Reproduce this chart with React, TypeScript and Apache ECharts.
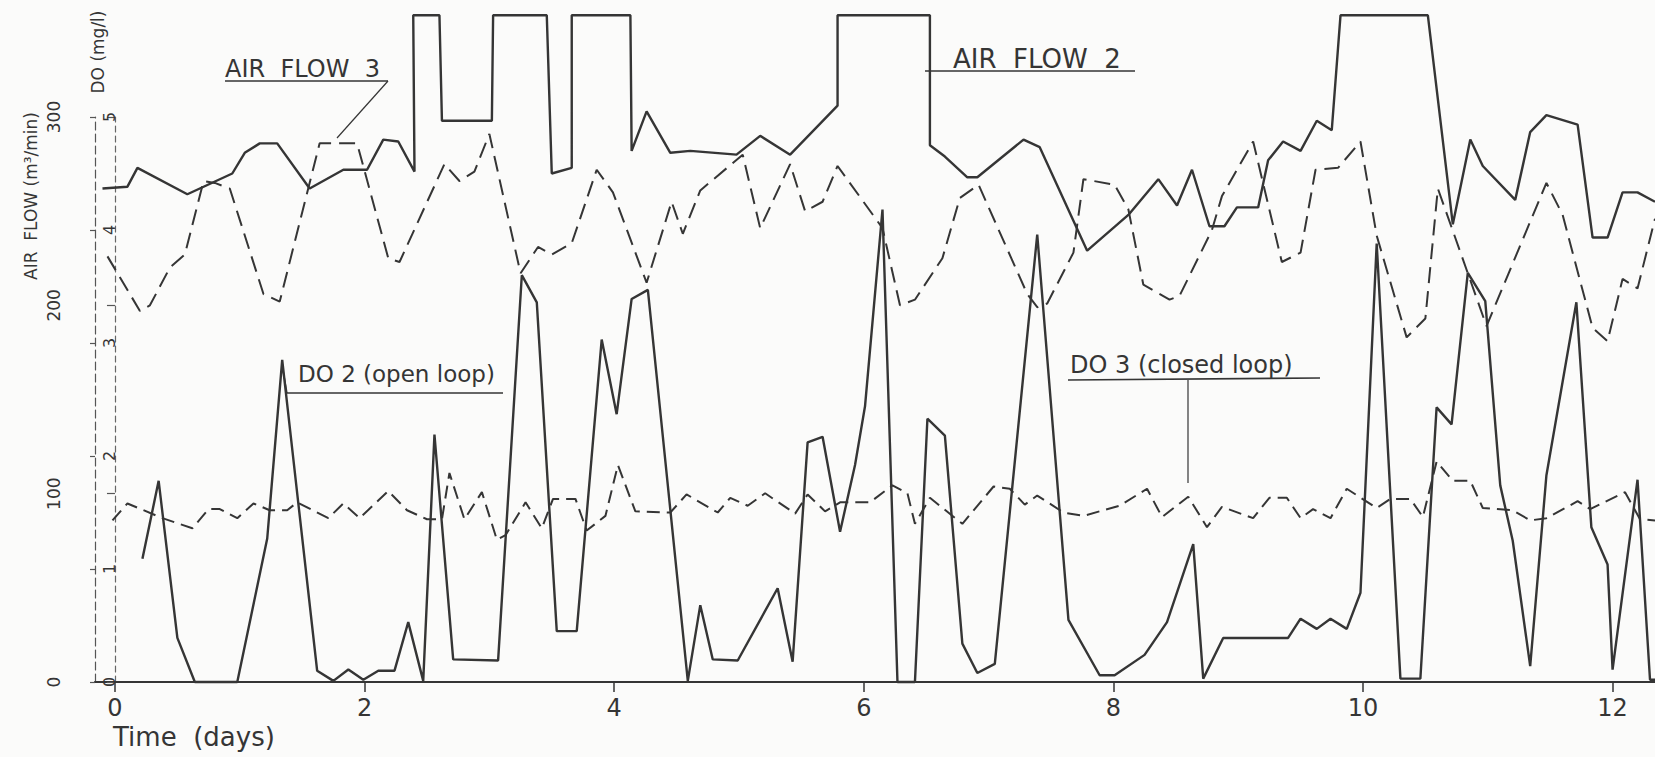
import React, { useEffect, useRef } from "react";
import * as echarts from "echarts";

// ---- Data ----
const dayTicks = [0, 2, 4, 6, 8, 10, 12];
const airflowTicks = [0, 100, 200, 300];
const doTicks = [0, 1, 2, 3, 4, 5];

// AIR FLOW 2 (solid, m3/min)
const af2Days = [-0.1, 0.1, 0.18, 0.58, 0.94, 1.04, 1.16, 1.3, 1.56, 1.83, 2.02, 2.15, 2.27, 2.4, 2.39, 2.6, 2.62, 3.02, 3.03, 3.46, 3.5, 3.66, 3.66, 4.13, 4.14, 4.26, 4.45, 4.61, 4.98, 5.17, 5.41, 5.79, 5.79, 6.53, 6.53, 6.65, 6.83, 6.91, 7.28, 7.41, 7.79, 8.12, 8.36, 8.51, 8.63, 8.77, 8.89, 8.99, 9.16, 9.24, 9.36, 9.5, 9.63, 9.75, 9.82, 10.52, 10.72, 10.86, 10.96, 11.22, 11.34, 11.47, 11.72, 11.84, 11.96, 12.08, 12.2, 12.34];
const af2Flow = [262, 263, 273, 259, 270, 281, 286, 286, 262, 272, 272, 288, 287, 271, 354, 354, 298, 298, 354, 354, 270, 273, 354, 354, 282, 303, 281, 282, 280, 290, 280, 306, 354, 354, 285, 279, 268, 268, 288, 284, 229, 248, 267, 253, 272, 242, 242, 252, 252, 277, 287, 282, 298, 293, 354, 354, 243, 288, 274, 256, 292, 301, 296, 236, 236, 260, 260, 255];

// AIR FLOW 3 (dashed, m3/min)
const af3Days = [-0.06, 0.2, 0.28, 0.44, 0.56, 0.71, 0.8, 0.92, 1.19, 1.32, 1.64, 1.94, 2.19, 2.28, 2.64, 2.76, 2.88, 3.0, 3.25, 3.39, 3.5, 3.66, 3.86, 3.99, 4.26, 4.46, 4.55, 4.69, 5.03, 5.17, 5.41, 5.53, 5.67, 5.79, 6.15, 6.29, 6.41, 6.63, 6.77, 6.92, 7.31, 7.39, 7.47, 7.68, 7.76, 8.01, 8.12, 8.24, 8.45, 8.53, 8.79, 8.87, 9.12, 9.35, 9.5, 9.62, 9.8, 9.98, 10.11, 10.35, 10.5, 10.6, 10.99, 11.47, 11.6, 11.84, 11.96, 12.08, 12.2, 12.34];
const af3Flow = [226, 197, 200, 220, 227, 266, 265, 262, 206, 202, 286, 286, 225, 223, 275, 266, 271, 291, 217, 231, 227, 233, 272, 260, 212, 255, 238, 261, 280, 241, 275, 250, 255, 274, 241, 200, 203, 225, 257, 264, 206, 199, 201, 228, 267, 264, 251, 211, 203, 205, 240, 258, 287, 223, 228, 272, 273, 287, 237, 183, 193, 262, 189, 265, 248, 188, 181, 214, 209, 246];

// DO 2 (open loop, solid, mg/l)
const do2Days = [0.22, 0.35, 0.5, 0.64, 0.98, 1.22, 1.34, 1.62, 1.75, 1.87, 1.99, 2.11, 2.24, 2.35, 2.47, 2.56, 2.71, 3.07, 3.26, 3.38, 3.54, 3.7, 3.9, 4.02, 4.14, 4.27, 4.59, 4.69, 4.79, 4.99, 5.31, 5.43, 5.55, 5.67, 5.81, 5.93, 6.01, 6.15, 6.27, 6.41, 6.51, 6.65, 6.79, 6.91, 7.05, 7.39, 7.64, 7.89, 8.01, 8.25, 8.43, 8.64, 8.72, 8.88, 9.4, 9.5, 9.63, 9.74, 9.87, 9.98, 10.11, 10.3, 10.46, 10.59, 10.71, 10.84, 10.98, 11.1, 11.2, 11.34, 11.47, 11.71, 11.83, 11.96, 12.0, 12.2, 12.3, 12.34];
const do2Mg = [1.09, 1.78, 0.39, 0.0, 0.0, 1.27, 2.85, 0.1, 0.01, 0.11, 0.02, 0.1, 0.1, 0.53, 0.01, 2.19, 0.2, 0.19, 3.6, 3.36, 0.45, 0.45, 3.03, 2.37, 3.39, 3.47, 0.01, 0.68, 0.2, 0.19, 0.83, 0.18, 2.12, 2.17, 1.33, 1.92, 2.44, 4.18, 0.0, 0.0, 2.33, 2.18, 0.34, 0.08, 0.16, 3.96, 0.55, 0.06, 0.06, 0.24, 0.53, 1.22, 0.03, 0.39, 0.39, 0.56, 0.47, 0.56, 0.47, 0.79, 3.88, 0.03, 0.03, 2.43, 2.28, 3.62, 3.37, 1.74, 1.25, 0.14, 1.83, 3.36, 1.37, 1.04, 0.11, 1.79, 0.02, 0.02];

// DO 3 (closed loop, dashed, mg/l)
const do3Days = [-0.02, 0.1, 0.38, 0.62, 0.75, 0.84, 0.98, 1.11, 1.24, 1.38, 1.46, 1.71, 1.83, 1.96, 2.19, 2.34, 2.5, 2.62, 2.68, 2.8, 2.94, 3.06, 3.13, 3.29, 3.42, 3.51, 3.69, 3.78, 3.93, 4.03, 4.17, 4.45, 4.58, 4.83, 4.93, 5.07, 5.21, 5.45, 5.55, 5.69, 5.81, 6.05, 6.23, 6.35, 6.41, 6.53, 6.79, 7.04, 7.17, 7.29, 7.39, 7.6, 7.76, 8.05, 8.27, 8.39, 8.6, 8.75, 8.87, 9.12, 9.25, 9.39, 9.5, 9.6, 9.74, 9.87, 10.11, 10.22, 10.38, 10.48, 10.59, 10.72, 10.86, 10.96, 11.2, 11.34, 11.47, 11.72, 11.82, 12.1, 12.22, 12.34];
const do3Mg = [1.43, 1.58, 1.45, 1.36, 1.53, 1.53, 1.45, 1.58, 1.52, 1.52, 1.59, 1.45, 1.58, 1.45, 1.69, 1.52, 1.44, 1.44, 1.85, 1.44, 1.68, 1.26, 1.3, 1.59, 1.36, 1.62, 1.62, 1.34, 1.47, 1.92, 1.51, 1.5, 1.66, 1.5, 1.63, 1.56, 1.67, 1.49, 1.66, 1.51, 1.59, 1.59, 1.74, 1.67, 1.4, 1.63, 1.4, 1.73, 1.71, 1.57, 1.65, 1.5, 1.47, 1.56, 1.71, 1.46, 1.64, 1.37, 1.55, 1.45, 1.63, 1.63, 1.45, 1.53, 1.45, 1.71, 1.54, 1.62, 1.62, 1.46, 1.95, 1.78, 1.78, 1.54, 1.52, 1.43, 1.45, 1.6, 1.53, 1.68, 1.44, 1.43];

const zip = (xs: number[], ys: number[]) => xs.map((x, i) => [x, ys[i]]);

const INK = "#353535";
const FONT = "DejaVu Sans";

export default function App() {
  const ref = useRef<HTMLDivElement>(null);
  useEffect(() => {
    if (!ref.current) return;
    const chart = echarts.init(ref.current, undefined, { renderer: "svg" });
    const lineBase = { type: "line" as const, showSymbol: false, symbol: "none", silent: true, clip: false };
    const txt = (text: string, x: number, y: number, fontSize: number, rotation = 0, align = "left") => ({
      type: "text",
      x,
      y,
      rotation,
      silent: true,
      style: {
        text,
        fill: INK,
        font: `${fontSize}px "${FONT}"`,
        fontSize,
        fontFamily: FONT,
        align,
        textAlign: align,
        verticalAlign: "middle",
        textVerticalAlign: "middle",
      },
    });
    const ln = (x1: number, y1: number, x2: number, y2: number, w = 1.6) => ({
      type: "line",
      silent: true,
      shape: { x1, y1, x2, y2 },
      style: { stroke: INK, lineWidth: w },
    });
    chart.setOption({
      animation: false,
      backgroundColor: "#fbfbfa",
      grid: { left: 95, right: 0, top: 117, bottom: 75 },
      xAxis: {
        type: "value",
        min: -0.16,
        max: 12.34,
        axisLine: { show: true, lineStyle: { color: INK, width: 2.2 } },
        axisTick: { show: true, length: 10, customValues: dayTicks, lineStyle: { color: INK, width: 1.5 } },
        axisLabel: { customValues: dayTicks, color: INK, fontSize: 24, fontFamily: FONT, margin: 14 },
        splitLine: { show: false },
      },
      yAxis: [
        {
          type: "value",
          position: "left",
          offset: 25,
          min: 0,
          max: 300,
          interval: 100,
          axisLine: { show: true, lineStyle: { color: "#666", width: 1.2, type: [6, 4] } },
          axisTick: { show: true, length: 8, lineStyle: { color: "#555", width: 1.2 } },
          axisLabel: { rotate: 90, color: INK, fontSize: 17, fontFamily: FONT, margin: 8 },
          splitLine: { show: false },
        },
        {
          type: "value",
          position: "left",
          offset: 0,
          min: 0,
          max: 5,
          interval: 1,
          axisLine: { show: true, lineStyle: { color: "#555", width: 1.2, type: [8, 4] } },
          axisTick: { show: true, length: 5, lineStyle: { color: "#555", width: 1.2 } },
          axisLabel: { inside: true, rotate: 90, color: INK, fontSize: 16, fontFamily: FONT, margin: 6 },
          splitLine: { show: false },
        },
      ],
      series: [
        { ...lineBase, name: "AIR FLOW 2", yAxisIndex: 0, data: zip(af2Days, af2Flow), lineStyle: { color: INK, width: 2.4 } },
        { ...lineBase, name: "AIR FLOW 3", yAxisIndex: 0, data: zip(af3Days, af3Flow), lineStyle: { color: INK, width: 2, type: [16, 8] } },
        { ...lineBase, name: "DO 2 (open loop)", yAxisIndex: 1, data: zip(do2Days, do2Mg), lineStyle: { color: INK, width: 2.4 } },
        { ...lineBase, name: "DO 3 (closed loop)", yAxisIndex: 1, data: zip(do3Days, do3Mg), lineStyle: { color: INK, width: 2, type: [13, 7] } },
      ],
      graphic: [
        txt("AIR  FLOW (m³/min)", 31, 196, 17, Math.PI / 2, "center"),
        txt("DO (mg/l)", 98, 52, 17, Math.PI / 2, "center"),
        txt("AIR  FLOW  3", 225, 69, 24),
        ln(225, 81, 388, 81),
        ln(388, 81, 337, 138, 1.2),
        txt("AIR  FLOW  2", 953, 59, 26),
        ln(925, 71, 1135, 71),
        txt("DO 2 (open loop)", 298, 374, 23),
        ln(287, 393, 503, 393),
        ln(287, 393, 283, 370, 1.4),
        txt("DO 3 (closed loop)", 1070, 365, 24),
        ln(1068, 380, 1320, 378),
        ln(1188, 380, 1188, 483, 1.2),
        txt("Time  (days)", 113, 737, 26),
      ],
    });
    return () => chart.dispose();
  }, []);
  return <div ref={ref} style={{ position: "absolute", left: 0, top: 0, width: 1655, height: 757 }} />;
}
